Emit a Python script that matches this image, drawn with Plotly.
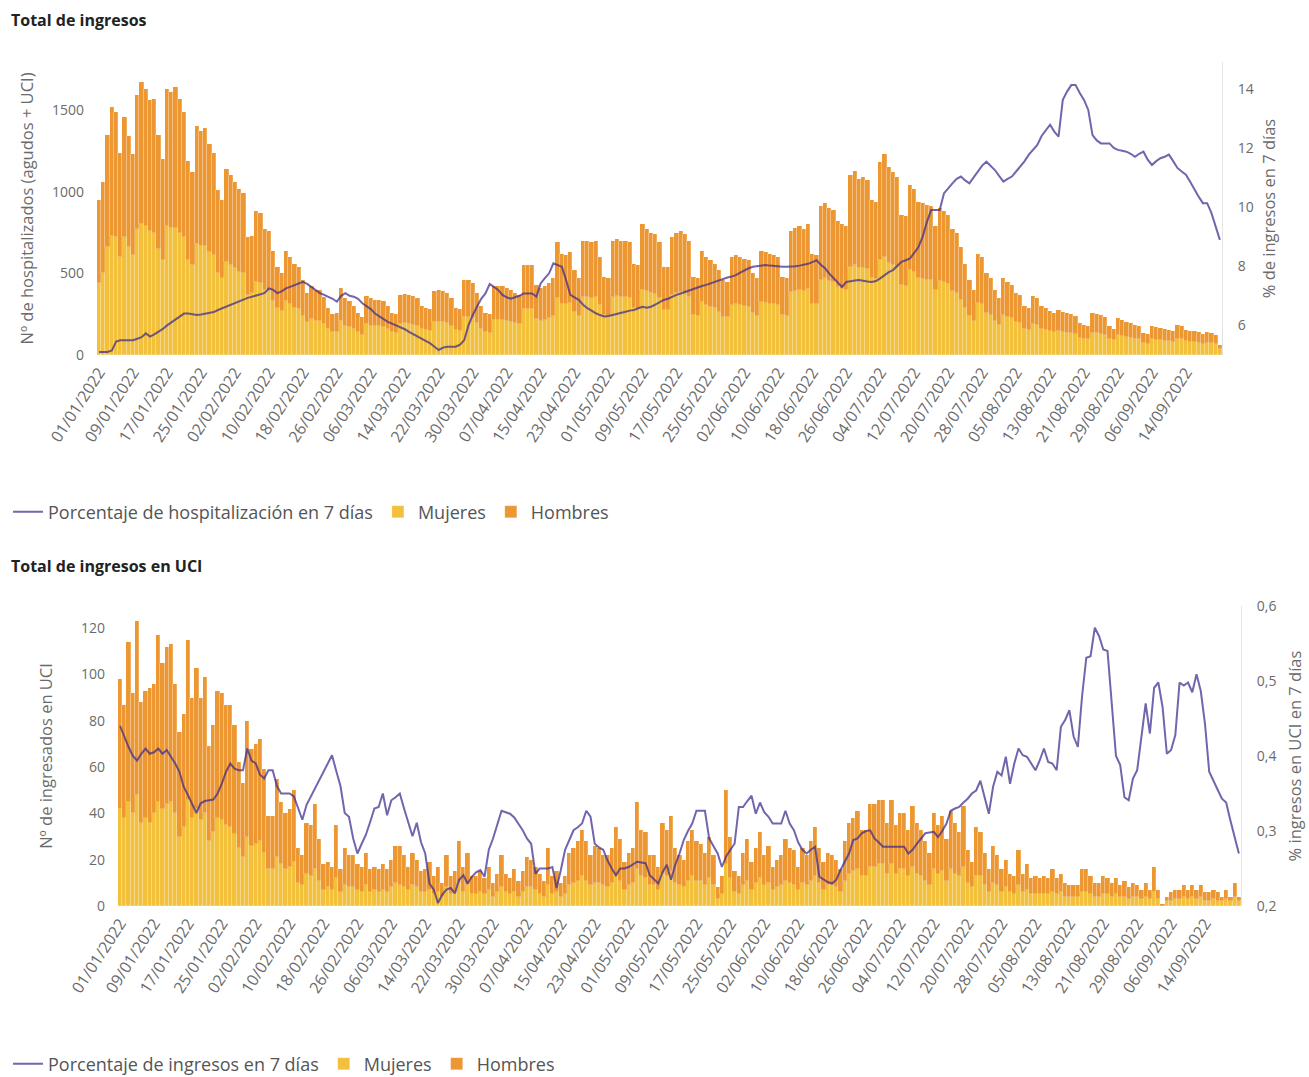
import pandas as pd
import plotly.graph_objects as go

# ---------------- Data: Total de ingresos (daily, from 01/01/2022) ----------------
ing_mujeres = [
    440, 500, 660, 730, 720, 600, 720, 660, 610, 770,
    800, 790, 760, 750, 650, 580, 790, 780, 780, 750,
    720, 580, 550, 680, 670, 670, 630, 610, 500, 470,
    570, 550, 530, 510, 500, 370, 380, 450, 440, 400,
    390, 330, 290, 270, 330, 310, 290, 280, 240, 200,
    220, 210, 210, 190, 160, 140, 140, 210, 180, 170,
    160, 140, 125, 190, 180, 180, 175, 170, 160, 140,
    135, 190, 195, 190, 185, 180, 160, 155, 150, 200,
    205, 200, 195, 180, 155, 150, 235, 235, 225, 195,
    160, 140, 135, 215, 215, 215, 210, 205, 195, 190,
    280, 280, 280, 220, 210, 215, 225, 240, 350, 315,
    310, 320, 265, 240, 355, 355, 350, 355, 305, 245,
    240, 355, 360, 355, 355, 350, 285, 280, 400, 390,
    380, 375, 350, 275, 275, 365, 380, 385, 375, 355,
    245, 240, 325, 305, 295, 285, 265, 235, 230, 305,
    310, 305, 300, 295, 255, 240, 325, 320, 315, 310,
    305, 245, 240, 385, 395, 400, 390, 405, 315, 310,
    460, 470, 455, 450, 415, 405, 400, 540, 550, 530,
    535, 525, 470, 465, 580, 600, 565, 550, 535, 430,
    425, 520, 510, 470, 465, 460, 460, 400, 455, 445,
    435, 390, 380, 340, 290, 240, 210, 320, 310, 260,
    245, 210, 185, 245, 235, 225, 200, 195, 160, 155,
    190, 185, 160, 155, 145, 140, 145, 140, 135, 135,
    130, 105, 100, 95, 135, 135, 130, 125, 95, 90,
    120, 115, 110, 105, 100, 95, 75, 70, 95, 90,
    90, 85, 85, 80, 100, 95, 85, 80, 80, 75,
    70, 75, 75, 70, 35,
]
ing_hombres = [
    510, 560, 690, 790, 770, 640, 740, 680, 620, 820,
    870, 840, 800, 820, 700, 620, 840, 830, 860, 820,
    770, 610, 570, 720, 700, 720, 660, 630, 510, 480,
    570, 550, 530, 510, 490, 350, 350, 430, 430, 370,
    370, 310, 250, 235, 310, 290, 270, 260, 220, 180,
    200, 190, 190, 165, 130, 110, 120, 200, 170, 160,
    140, 120, 105, 170, 170, 160, 165, 160, 140, 120,
    115, 180, 180, 180, 175, 170, 140, 135, 130, 190,
    195, 190, 185, 170, 135, 130, 225, 225, 215, 185,
    140, 120, 115, 205, 205, 205, 200, 195, 185, 180,
    270, 270, 270, 210, 200, 205, 215, 230, 340, 305,
    300, 310, 255, 230, 345, 345, 340, 345, 295, 235,
    230, 345, 350, 345, 345, 340, 275, 270, 400, 380,
    370, 365, 340, 265, 265, 355, 370, 375, 365, 345,
    235, 230, 315, 295, 285, 275, 255, 225, 220, 295,
    300, 295, 290, 285, 245, 230, 315, 310, 305, 300,
    295, 235, 230, 375, 385, 390, 380, 395, 305, 300,
    450, 460, 445, 440, 405, 395, 390, 560, 580, 550,
    555, 545, 480, 475, 600, 630, 585, 570, 555, 430,
    425, 520, 510, 470, 465, 460, 450, 390, 445, 435,
    425, 380, 370, 320, 270, 220, 190, 300, 290, 240,
    225, 190, 165, 225, 215, 205, 180, 175, 140, 135,
    170, 165, 140, 135, 125, 120, 130, 125, 120, 115,
    110, 90, 85, 80, 120, 115, 115, 110, 80, 70,
    105, 100, 95, 90, 85, 80, 60, 60, 80, 80,
    75, 75, 70, 70, 85, 80, 70, 70, 65, 65,
    60, 65, 60, 55, 25,
]
ing_pct = [
    5.1, 5.1, 5.1, 5.15, 5.45, 5.5, 5.5, 5.5, 5.5, 5.55,
    5.6, 5.73, 5.62, 5.7, 5.78, 5.88, 6.0, 6.1, 6.2, 6.3,
    6.4, 6.4, 6.38, 6.35, 6.37, 6.4, 6.41, 6.45, 6.52, 6.58,
    6.63, 6.7, 6.75, 6.8, 6.88, 6.93, 6.97, 7.0, 7.05, 7.1,
    7.25, 7.2, 7.09, 7.15, 7.25, 7.3, 7.36, 7.42, 7.47, 7.4,
    7.3, 7.2, 7.09, 7.03, 6.97, 6.9, 6.8, 7.0, 7.09, 7.0,
    6.97, 6.9, 6.75, 6.65, 6.55, 6.4, 6.3, 6.2, 6.12, 6.06,
    6.0, 5.95, 5.87, 5.78, 5.7, 5.63, 5.56, 5.48, 5.39, 5.28,
    5.17, 5.25, 5.28, 5.28, 5.28, 5.35, 5.5, 6.0, 6.35, 6.63,
    6.9, 7.08, 7.4, 7.3, 7.2, 7.03, 6.95, 6.9, 6.95, 7.0,
    7.08, 7.08, 7.08, 6.97, 7.42, 7.6, 7.76, 8.1, 8.05, 7.98,
    7.53, 7.03, 6.95, 6.86, 6.7, 6.58, 6.5, 6.41, 6.35, 6.3,
    6.32, 6.35, 6.4, 6.43, 6.46, 6.5, 6.52, 6.58, 6.63, 6.6,
    6.63, 6.7, 6.78, 6.86, 6.9, 6.97, 7.03, 7.08, 7.13, 7.2,
    7.25, 7.3, 7.33, 7.37, 7.42, 7.48, 7.53, 7.58, 7.62, 7.65,
    7.7, 7.78, 7.87, 7.93, 7.98, 8.0, 8.02, 8.04, 8.02, 8.0,
    7.98, 7.98, 7.98, 7.98, 8.0, 8.02, 8.04, 8.08, 8.14, 8.2,
    8.05, 7.93, 7.75, 7.59, 7.45, 7.3, 7.47, 7.5, 7.52, 7.53,
    7.5, 7.48, 7.47, 7.5, 7.59, 7.7, 7.8, 7.87, 8.0, 8.15,
    8.2, 8.26, 8.45, 8.65, 9.0, 9.5, 9.9, 9.9, 9.9, 10.46,
    10.65, 10.8, 10.95, 11.03, 10.9, 10.8, 11.0, 11.2, 11.4, 11.53,
    11.4, 11.25, 11.05, 10.86, 10.95, 11.03, 11.2, 11.37, 11.55, 11.77,
    11.95, 12.1, 12.4, 12.6, 12.78, 12.55, 12.38, 13.62, 13.9, 14.12,
    14.12, 13.85, 13.62, 13.28, 12.43, 12.25, 12.15, 12.15, 12.15, 12.0,
    11.93, 11.9, 11.87, 11.8, 11.7, 11.8, 11.87, 11.6, 11.42, 11.55,
    11.65, 11.7, 11.77, 11.55, 11.32, 11.2, 11.09, 10.85, 10.58, 10.35,
    10.13, 10.13, 9.8, 9.35, 8.89,
]

# ---------------- Data: Total de ingresos en UCI ----------------
uci_mujeres = [
    42, 38, 45, 40, 48, 36, 38, 36, 40, 45,
    42, 44, 45, 40, 30, 34, 46, 38, 42, 37,
    40, 28, 32, 38, 37, 35, 34, 31, 25, 21,
    30, 26, 27, 28, 23, 16, 16, 21, 18, 16,
    17, 19, 10, 9, 14, 13, 16, 11, 7, 8,
    7, 12, 6, 9, 8, 8, 7, 6, 9, 6,
    7, 6, 7, 6, 8, 10, 9, 8, 7, 9,
    8, 6, 6, 7, 5, 6, 4, 8, 5, 6,
    10, 6, 9, 5, 5, 6, 5, 7, 4, 6,
    8, 6, 5, 6, 4, 6, 8, 8, 7, 5,
    4, 9, 5, 6, 4, 5, 9, 10, 11, 13,
    11, 9, 10, 10, 9, 8, 10, 13, 11, 7,
    9, 10, 16, 13, 12, 9, 9, 7, 14, 13,
    15, 10, 9, 8, 11, 13, 11, 11, 9, 12,
    9, 3, 5, 18, 12, 6, 5, 9, 11, 7,
    10, 12, 9, 10, 7, 8, 9, 11, 10, 9,
    7, 10, 9, 11, 13, 10, 7, 9, 9, 8,
    6, 11, 14, 15, 16, 13, 13, 17, 17, 18,
    18, 14, 18, 14, 16, 16, 13, 17, 14, 13,
    11, 9, 16, 14, 15, 11, 16, 14, 13, 17,
    10, 8, 13, 13, 9, 6, 10, 9, 6, 8,
    6, 5, 9, 6, 7, 5, 5, 5, 5, 5,
    6, 5, 6, 4, 4, 4, 4, 6, 6, 5,
    4, 4, 5, 5, 4, 5, 4, 4, 3, 4,
    4, 3, 4, 3, 6, 3, 0, 2, 2, 3,
    3, 4, 3, 4, 3, 4, 2, 2, 3, 2,
    2, 3, 2, 4, 2,
]
uci_hombres = [
    56, 49, 69, 52, 75, 52, 55, 58, 56, 72,
    63, 68, 68, 56, 45, 49, 69, 52, 61, 53,
    59, 41, 46, 55, 55, 52, 53, 47, 37, 32,
    50, 42, 43, 44, 36, 23, 23, 34, 27, 24,
    25, 31, 15, 13, 22, 22, 28, 18, 11, 11,
    10, 23, 10, 16, 14, 14, 11, 11, 14, 10,
    10, 10, 11, 10, 12, 16, 17, 14, 10, 14,
    12, 9, 10, 12, 8, 11, 6, 14, 8, 9,
    18, 11, 14, 8, 8, 9, 7, 10, 6, 8,
    14, 8, 7, 10, 7, 9, 13, 12, 10, 9,
    7, 16, 8, 9, 6, 8, 14, 15, 17, 20,
    17, 13, 16, 15, 13, 14, 15, 21, 18, 12,
    14, 15, 29, 20, 20, 13, 13, 10, 22, 20,
    24, 15, 13, 12, 17, 20, 17, 16, 14, 18,
    13, 5, 8, 32, 18, 9, 8, 14, 18, 12,
    15, 20, 13, 16, 10, 12, 13, 18, 15, 15,
    10, 15, 13, 17, 21, 15, 12, 14, 13, 12,
    10, 17, 22, 23, 25, 20, 20, 27, 27, 28,
    28, 22, 28, 21, 24, 24, 20, 26, 22, 20,
    17, 14, 24, 21, 24, 18, 25, 22, 19, 26,
    14, 11, 21, 19, 14, 10, 16, 13, 10, 12,
    8, 8, 15, 8, 11, 7, 8, 7, 8, 7,
    10, 7, 8, 6, 5, 5, 5, 10, 10, 8,
    6, 6, 8, 7, 6, 7, 5, 7, 5, 6,
    5, 4, 6, 4, 11, 4, 1, 2, 4, 4,
    4, 5, 4, 5, 4, 5, 4, 4, 4, 4,
    2, 4, 2, 6, 2,
]
uci_pct = [
    0.44, 0.425, 0.412, 0.40, 0.394, 0.403, 0.41, 0.403, 0.405, 0.41,
    0.403, 0.408, 0.399, 0.39, 0.379, 0.359, 0.348, 0.337, 0.324, 0.337,
    0.34, 0.341, 0.342, 0.35, 0.363, 0.379, 0.39, 0.383, 0.381, 0.381,
    0.41, 0.394, 0.39, 0.375, 0.37, 0.381, 0.381, 0.36, 0.35, 0.35,
    0.35, 0.346, 0.33, 0.315, 0.335, 0.346, 0.357, 0.368, 0.379, 0.39,
    0.401, 0.38, 0.36, 0.324, 0.319, 0.29, 0.27, 0.283, 0.295, 0.312,
    0.33, 0.332, 0.35, 0.321, 0.341, 0.345, 0.35, 0.33, 0.31, 0.293,
    0.311, 0.285, 0.27, 0.23, 0.222, 0.204, 0.215, 0.222, 0.224, 0.217,
    0.235, 0.241, 0.23, 0.239, 0.245, 0.248, 0.239, 0.275, 0.29, 0.31,
    0.327, 0.325, 0.323, 0.318, 0.31, 0.301, 0.29, 0.283, 0.243, 0.25,
    0.25, 0.25, 0.252, 0.224, 0.248, 0.275, 0.288, 0.301, 0.305, 0.31,
    0.327, 0.319, 0.283, 0.278, 0.275, 0.261, 0.25, 0.241, 0.25, 0.25,
    0.252, 0.255, 0.259, 0.258, 0.257, 0.241, 0.235, 0.23, 0.245, 0.255,
    0.235, 0.255, 0.27, 0.288, 0.30, 0.31, 0.327, 0.327, 0.327, 0.29,
    0.28, 0.27, 0.252, 0.266, 0.275, 0.283, 0.332, 0.332, 0.34, 0.347,
    0.323, 0.338, 0.325, 0.319, 0.31, 0.31, 0.31, 0.327, 0.31, 0.301,
    0.285, 0.275, 0.27, 0.275, 0.279, 0.239, 0.235, 0.232, 0.23, 0.235,
    0.248, 0.26, 0.27, 0.288, 0.29, 0.297, 0.30, 0.301, 0.29, 0.285,
    0.279, 0.279, 0.279, 0.279, 0.279, 0.279, 0.27, 0.275, 0.283, 0.29,
    0.297, 0.298, 0.299, 0.292, 0.30, 0.31, 0.327, 0.33, 0.332, 0.338,
    0.343, 0.35, 0.354, 0.367, 0.345, 0.323, 0.359, 0.379, 0.374, 0.399,
    0.363, 0.39, 0.41, 0.401, 0.399, 0.39, 0.381, 0.394, 0.41, 0.392,
    0.39, 0.381, 0.439, 0.448, 0.461, 0.426, 0.412, 0.48, 0.531, 0.533,
    0.571, 0.56, 0.542, 0.54, 0.47, 0.40, 0.388, 0.345, 0.341, 0.37,
    0.381, 0.426, 0.47, 0.43, 0.491, 0.498, 0.465, 0.403, 0.408, 0.428,
    0.498, 0.494, 0.498, 0.485, 0.509, 0.487, 0.443, 0.379, 0.366, 0.355,
    0.343, 0.338, 0.314, 0.292, 0.27,
]

fechas = pd.date_range("2022-01-01", periods=len(ing_mujeres), freq="D")
ticks_x = pd.date_range("2022-01-01", "2022-09-14", freq="8D")

# ---------------- Styles ----------------
FONT = "Open Sans"
C_MUJ = "#f3c03c"
C_HOM = "#ec9731"
C_LINE = "rgba(60,42,140,0.72)"
GREY = "#6b6b6b"
SEP = dict(width=0.6, color="rgba(255,255,255,0.35)")
W, H = 1309, 1077

def px_x(p):
    return p / W

def px_y(p):
    return 1 - p / H

fig = go.Figure()

# ---- Top chart ----
fig.add_trace(go.Scatter(x=fechas, y=ing_pct, xaxis="x", yaxis="y2", mode="lines",
                         name="Porcentaje de hospitalización en 7 días",
                         line=dict(color=C_LINE, width=2), legend="legend"))
fig.add_trace(go.Bar(x=fechas, y=ing_mujeres, xaxis="x", yaxis="y", name="Mujeres",
                     marker=dict(color=C_MUJ, line=SEP), legend="legend"))
fig.add_trace(go.Bar(x=fechas, y=ing_hombres, xaxis="x", yaxis="y", name="Hombres",
                     marker=dict(color=C_HOM, line=SEP), legend="legend"))

# ---- Bottom chart ----
fig.add_trace(go.Scatter(x=fechas, y=uci_pct, xaxis="x2", yaxis="y4", mode="lines",
                         name="Porcentaje de ingresos en 7 días",
                         line=dict(color=C_LINE, width=2), legend="legend2"))
fig.add_trace(go.Bar(x=fechas, y=uci_mujeres, xaxis="x2", yaxis="y3", name="Mujeres",
                     marker=dict(color=C_MUJ, line=SEP), legend="legend2"))
fig.add_trace(go.Bar(x=fechas, y=uci_hombres, xaxis="x2", yaxis="y3", name="Hombres",
                     marker=dict(color=C_HOM, line=SEP), legend="legend2"))

xr = ["2021-12-31 12:00", "2022-09-22 12:00"]
xcommon = dict(type="date", range=xr, tickvals=list(ticks_x),
               tickformat="%d/%m/%Y", tickangle=-57, showgrid=False, zeroline=False,
               showline=False, ticks="", automargin=False, ticklabelstandoff=4,
               tickfont=dict(family=FONT, size=16, color=GREY))
ycommon = dict(showgrid=False, zeroline=False, ticks="", automargin=False,
               ticklabelstandoff=12,
               tickfont=dict(family=FONT, size=14, color=GREY))
TFONT = dict(family=FONT, size=16.5, color=GREY)
LFONT = dict(family=FONT, size=18, color="#555555")

fig.update_layout(
    width=W, height=H,
    margin=dict(l=0, r=0, t=0, b=0, autoexpand=False),
    paper_bgcolor="white", plot_bgcolor="white",
    font=dict(family=FONT, color=GREY),
    separators=",.",
    barmode="stack", bargap=0.0,
    showlegend=True,
    xaxis=dict(domain=[px_x(97), px_x(1222)], anchor="y", **xcommon),
    yaxis=dict(domain=[px_y(355), px_y(62)], anchor="x", range=[0, 1795],
               tickvals=[0, 500, 1000, 1500],
               title=dict(text="Nº de hospitalizados (agudos + UCI)", standoff=14, font=TFONT),
               **ycommon),
    yaxis2=dict(overlaying="y", side="right", anchor="x", range=[5, 14.9],
                tickvals=[6, 8, 10, 12, 14], showline=True, linecolor="#e4e4e4", linewidth=1,
                title=dict(text="% de ingresos en 7 días", standoff=10, font=TFONT),
                **ycommon),
    xaxis2=dict(domain=[px_x(118), px_x(1241)], anchor="y3", **xcommon),
    yaxis3=dict(domain=[px_y(906), px_y(606)], anchor="x2", range=[0, 129.6],
                tickvals=[0, 20, 40, 60, 80, 100, 120],
                title=dict(text="Nº de ingresados en UCI", standoff=24, font=TFONT),
                **ycommon),
    yaxis4=dict(overlaying="y3", side="right", anchor="x2", range=[0.2, 0.6],
                tickvals=[0.2, 0.3, 0.4, 0.5, 0.6], tickformat=".1f",
                showline=True, linecolor="#e4e4e4", linewidth=1,
                title=dict(text="% ingresos en UCI en 7 días", standoff=14, font=TFONT),
                **ycommon),
    legend=dict(orientation="h", x=px_x(8), xanchor="left", y=px_y(512), yanchor="middle",
                font=LFONT, traceorder="normal", bgcolor="rgba(0,0,0,0)"),
    legend2=dict(orientation="h", x=px_x(8), xanchor="left", y=px_y(1064), yanchor="middle",
                 font=LFONT, traceorder="normal", bgcolor="rgba(0,0,0,0)"),
    annotations=[
        dict(text="<b>Total de ingresos</b>", xref="paper", yref="paper",
             x=px_x(9), y=px_y(20), xanchor="left", yanchor="middle", showarrow=False,
             font=dict(family=FONT, size=16, color="#222222")),
        dict(text="<b>Total de ingresos en UCI</b>", xref="paper", yref="paper",
             x=px_x(9), y=px_y(566), xanchor="left", yanchor="middle", showarrow=False,
             font=dict(family=FONT, size=16, color="#222222")),
    ],
)

fig.write_html("out.html",
               config={"displayModeBar": False},
               post_script="document.body.style.margin='0px';document.body.style.overflow='hidden';")
